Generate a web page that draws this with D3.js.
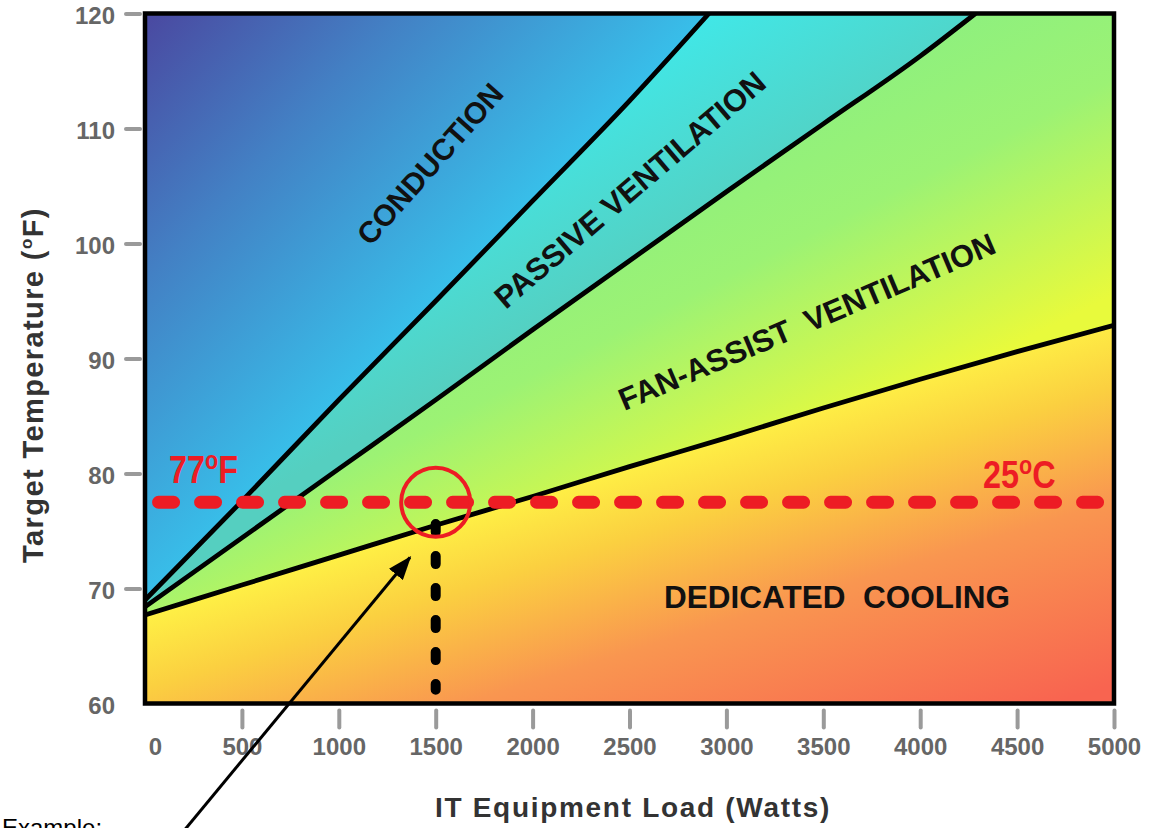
<!DOCTYPE html>
<html><head><meta charset="utf-8">
<script src="https://cdn.jsdelivr.net/npm/d3@7/dist/d3.min.js"></script>
<style>body{margin:0;background:#fff;overflow:hidden}</style>
</head><body>
<svg id="chart" width="1154" height="828"></svg>
<script>
// ---------------- DATA ----------------
const xTickValues = [0,500,1000,1500,2000,2500,3000,3500,4000,4500,5000];
const yTickValues = [60,70,80,90,100,110,120];

// boundary: conduction | passive ventilation
const conductionLoad = [0,500,1000,1500,2000,2500,2910];
const conductionTemp = [69.0,77.6,86.4,95.0,103.7,112.4,120];
// boundary: passive | fan-assist ventilation
const passiveLoad = [0,500,1000,1500,2000,2500,3000,3500,4000,4285];
const passiveTemp = [68.4,74.4,80.4,86.4,92.5,98.5,104.5,110.4,116.3,120];
// boundary: fan-assist | dedicated cooling
const fanLoad = [0,500,1000,1500,2000,2500,3000,3500,4000,4500,5000];
const fanTemp = [67.7,70.3,72.9,75.5,78.0,80.6,83.1,85.7,88.2,90.6,92.9];

const regionNames = ["CONDUCTION","PASSIVE VENTILATION","FAN-ASSIST  VENTILATION","DEDICATED  COOLING"];
const refTemp = 77.5;            // 77ºF / 25ºC target line
const refLabels = ["77","F","25","C"];
const refLoadRange = [70, 4940];
const exampleLoad = 1500;         // example point
const exampleTempRange = [75.6, 61.2];
const arrowFrom = [160, 48.1];
const arrowTo = [1367, 72.7];

// ---------------- LAYOUT ----------------
const svg = d3.select("#chart");
const L = 145, R = 1114, T = 13.5, B = 703.5;
const x = d3.scaleLinear().domain([0,5000]).range([L,R]);
const y = d3.scaleLinear().domain([60,120]).range([B,T]);
const FONT = "'Liberation Sans', Arial, Helvetica, sans-serif";
const RED = "#ED1C24";

const defs = svg.append("defs");
function grad(id, x1,y1,x2,y2, stops){
  const g = defs.append("linearGradient").attr("id",id).attr("gradientUnits","userSpaceOnUse")
    .attr("x1",x1).attr("y1",y1).attr("x2",x2).attr("y2",y2);
  stops.forEach(s=>g.append("stop").attr("offset",s[0]).attr("stop-color",s[1]));
}
grad("gCond", 145,13, 440,294, [[0,"#4a48a0"],[0.45,"#4380c4"],[1,"#38bee9"]]);
grad("gPass", 720,0, 820,173, [[0,"#40e8e8"],[1,"#55cfc0"]]);
grad("gFan", 202,400, 347,685, [[0,"#8ef07e"],[0.4,"#9cf274"],[1,"#e8fa3c"]]);
grad("gDed", 187,591, 296,940, [[0,"#fff546"],[0.22,"#fbd040"],[0.52,"#f99650"],[1,"#f86450"]]);

defs.append("clipPath").attr("id","plotClip").append("rect")
  .attr("x",L).attr("y",T).attr("width",R-L).attr("height",B-T);

defs.append("marker").attr("id","arrowHead").attr("markerUnits","userSpaceOnUse")
  .attr("viewBox","0 0 24 18").attr("markerWidth",24).attr("markerHeight",18)
  .attr("refX",22).attr("refY",9).attr("orient","auto")
  .append("path").attr("d","M0,0 L24,9 L0,18 Z").attr("fill","#000");

const lineGen = d3.line().x(d=>x(d[0])).y(d=>y(d[1])).curve(d3.curveMonotoneX);
const pts = (xs, ys) => xs.map((v,i)=>[v, ys[i]]);
const b1 = pts(conductionLoad, conductionTemp);
const b2 = pts(passiveLoad, passiveTemp);
const b3 = pts(fanLoad, fanTemp);

function regionBelow(p){
  let d = lineGen(p);
  const last = p[p.length-1];
  if (last[0] < 5000) d += "L" + x(5000) + "," + y(120);
  d += "L" + x(5000) + "," + y(60) + "L" + x(0) + "," + y(60) + "Z";
  return d;
}

const plot = svg.append("g").attr("clip-path","url(#plotClip)");
plot.append("rect").attr("x",L).attr("y",T).attr("width",R-L).attr("height",B-T).attr("fill","url(#gCond)");
plot.append("path").attr("d",regionBelow(b1)).attr("fill","url(#gPass)");
plot.append("path").attr("d",regionBelow(b2)).attr("fill","url(#gFan)");
plot.append("path").attr("d",regionBelow(b3)).attr("fill","url(#gDed)");
[b1,b2,b3].forEach(p=>{
  plot.append("path").attr("d",lineGen(p)).attr("fill","none")
    .attr("stroke","#000").attr("stroke-width",4.8).attr("stroke-linejoin","round");
});

// border
svg.append("rect").attr("x",L).attr("y",T).attr("width",R-L).attr("height",B-T)
  .attr("fill","none").attr("stroke","#000").attr("stroke-width",4.5);

// axes
const xAxis = d3.axisBottom(x).tickValues(xTickValues).tickSize(21).tickPadding(10).tickFormat(d3.format("d"));
const gx = svg.append("g").attr("transform",`translate(0,${B+3})`).call(xAxis);
gx.select(".domain").remove();
gx.selectAll(".tick line").attr("stroke","#9a9a9a").attr("stroke-width",4).attr("stroke-linecap","round")
  .attr("y1",4).attr("y2",21)
  .attr("display",d=>d===0?"none":null);
gx.selectAll(".tick text").attr("fill","#666").attr("font-family",FONT).attr("font-weight","bold")
  .attr("font-size",24).attr("dx",d=>d===0?10:0);

const yAxis = d3.axisLeft(y).tickValues(yTickValues).tickSize(18).tickPadding(9).tickFormat(d3.format("d"));
const gy = svg.append("g").attr("transform",`translate(${L-3},0)`).call(yAxis);
gy.select(".domain").remove();
gy.selectAll(".tick line").attr("stroke","#9a9a9a").attr("stroke-width",4).attr("stroke-linecap","round")
  .attr("x2",-16).attr("x1",-2)
  .attr("display",d=>d===60?"none":null);
gy.selectAll(".tick text").attr("fill","#666").attr("font-family",FONT).attr("font-weight","bold")
  .attr("font-size",24).attr("dy","0.4em");

// axis titles
const yt = svg.append("text").attr("transform","translate(43,385) rotate(-90)")
  .attr("text-anchor","middle").attr("font-family",FONT).attr("font-weight","bold")
  .attr("font-size",29).attr("letter-spacing",1.4).attr("fill","#333");
yt.append("tspan").text("Target Temperature (");
yt.append("tspan").text("o").attr("font-size",17).attr("dy",-11);
yt.append("tspan").text("F)").attr("dy",11);

svg.append("text").attr("x",633).attr("y",817).attr("text-anchor","middle")
  .attr("font-family",FONT).attr("font-weight","bold").attr("font-size",28)
  .attr("letter-spacing",1.7).attr("fill","#333").text("IT Equipment Load (Watts)");

// reference 77ºF line
svg.append("line").attr("x1",x(refLoadRange[0])).attr("x2",x(refLoadRange[1]))
  .attr("y1",y(refTemp)).attr("y2",y(refTemp))
  .attr("stroke",RED).attr("stroke-width",13).attr("stroke-linecap","round")
  .attr("stroke-dasharray","15 27");

// example vertical dashed
svg.append("line").attr("x1",x(exampleLoad)).attr("x2",x(exampleLoad))
  .attr("y1",y(exampleTempRange[0])).attr("y2",y(exampleTempRange[1]))
  .attr("stroke","#000").attr("stroke-width",10).attr("stroke-linecap","round")
  .attr("stroke-dasharray","8 24");

// circle
svg.append("circle").attr("cx",x(exampleLoad)).attr("cy",y(refTemp)).attr("r",34.5)
  .attr("fill","none").attr("stroke",RED).attr("stroke-width",4);

// arrow
svg.append("line").attr("x1",x(arrowFrom[0])).attr("y1",y(arrowFrom[1]))
  .attr("x2",x(arrowTo[0])).attr("y2",y(arrowTo[1]))
  .attr("stroke","#000").attr("stroke-width",3).attr("marker-end","url(#arrowHead)");

// ref labels (condensed)
function refLabel(num, unit, px, py){
  const t = svg.append("text").attr("transform",`translate(${px},${py}) scale(0.83,1)`)
    .attr("font-family",FONT).attr("font-weight","bold").attr("font-size",39).attr("fill",RED);
  t.append("tspan").text(num);
  t.append("tspan").text("o").attr("font-size",26).attr("dy",-14);
  t.append("tspan").text(unit).attr("dy",14);
}
refLabel(refLabels[0], refLabels[1], 169, 483);
refLabel(refLabels[2], refLabels[3], 983, 488);

// region labels
const labelLayout = [
  {cx:430, cy:164, rot:-48.5, fs:30},
  {cx:630, cy:190, rot:-40.5, fs:31},
  {cx:807, cy:322, rot:-23, fs:31},
  {cx:837, cy:597, rot:0, fs:31.5}
];
regionNames.forEach((name,i)=>{
  const l = labelLayout[i];
  svg.append("text").attr("transform",`translate(${l.cx},${l.cy}) rotate(${l.rot})`)
    .attr("text-anchor","middle").attr("dominant-baseline","central")
    .attr("font-family",FONT).attr("font-weight","bold").attr("font-size",l.fs)
    .attr("fill","#111").style("white-space","pre").text(name);
});

// example note (cut by the bottom edge, as in the original)
svg.append("text").attr("x",2).attr("y",836).attr("font-family",FONT)
  .attr("font-size",24).attr("fill","#000").text("Example:");
</script>
</body></html>
